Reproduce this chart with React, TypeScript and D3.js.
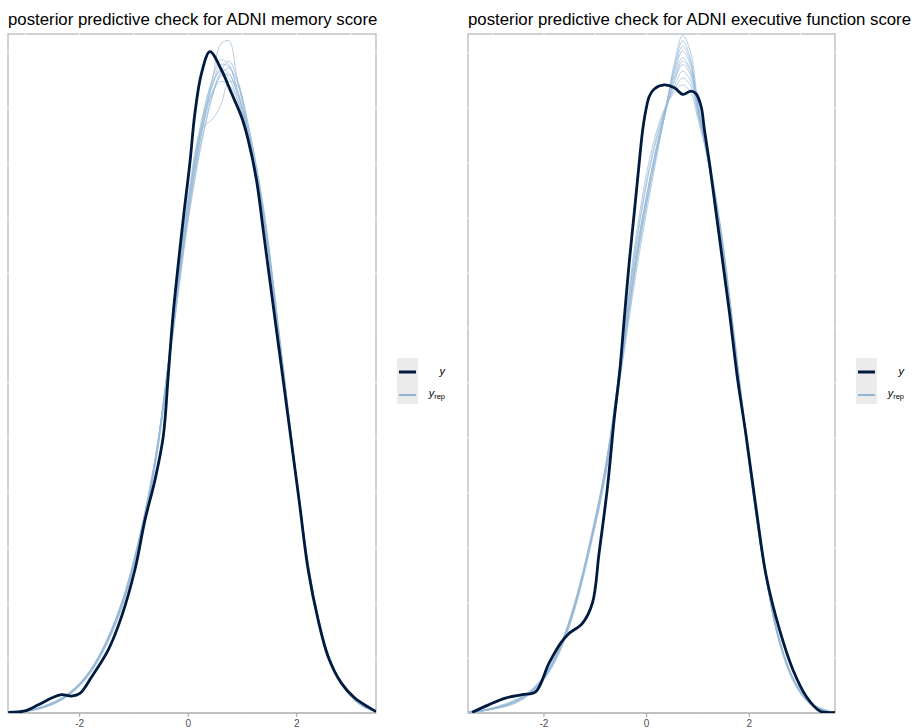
import React from "react";
import * as d3 from "d3";

// ---------- DATA (density in relative units, 1 = panel top) ----------
const titles = [
  "posterior predictive check for ADNI memory score",
  "posterior predictive check for ADNI executive function score",
];
const xTicks = [-2, 0, 2];
const xTickLabels = ["-2", "0", "2"];

// Memory score: observed y density
const memY: [number, number][] = [
  [-3.315, 0.001], [-3.007, 0.003], [-2.762, 0.012], [-2.517, 0.022], [-2.333, 0.027],
  [-2.149, 0.025], [-1.994, 0.029], [-1.781, 0.053], [-1.473, 0.093], [-1.228, 0.142],
  [-0.982, 0.211], [-0.797, 0.284], [-0.613, 0.343], [-0.46, 0.407], [-0.368, 0.497],
  [-0.276, 0.589], [-0.079, 0.736], [0.031, 0.81], [0.123, 0.883], [0.245, 0.942],
  [0.4, 0.974], [0.613, 0.947], [0.797, 0.913], [0.982, 0.878], [1.105, 0.844],
  [1.258, 0.785], [1.381, 0.712], [1.503, 0.638], [1.626, 0.564], [1.737, 0.498],
  [1.888, 0.407], [2.05, 0.309], [2.21, 0.211], [2.394, 0.137], [2.578, 0.083],
  [2.823, 0.044], [3.07, 0.022], [3.315, 0.009], [3.46, 0.002],
];

// Memory score: replicated densities on a shared grid
const memGrid = [-3.3, -3.0, -2.7, -2.4, -2.1, -1.8, -1.5, -1.2, -0.9, -0.6, -0.3, 0.0, 0.25, 0.45, 0.6, 0.75, 0.9, 1.1, 1.4, 1.7, 2.0, 2.3, 2.6, 2.9, 3.2, 3.46];
const memRep1 = [0.001, 0.003, 0.008, 0.017, 0.033, 0.060, 0.103, 0.163, 0.253, 0.372, 0.550, 0.735, 0.855, 0.935, 0.985, 0.990, 0.935, 0.860, 0.725, 0.532, 0.338, 0.175, 0.080, 0.034, 0.011, 0.002];
const memRep2 = [0.001, 0.003, 0.009, 0.019, 0.036, 0.063, 0.107, 0.168, 0.258, 0.378, 0.560, 0.750, 0.870, 0.935, 0.962, 0.955, 0.920, 0.858, 0.728, 0.538, 0.342, 0.177, 0.081, 0.034, 0.011, 0.002];
const memRep3 = [0.001, 0.002, 0.007, 0.016, 0.032, 0.059, 0.101, 0.160, 0.250, 0.368, 0.548, 0.740, 0.860, 0.925, 0.955, 0.952, 0.918, 0.852, 0.722, 0.530, 0.336, 0.172, 0.078, 0.033, 0.010, 0.002];
const memRep4 = [0.001, 0.003, 0.008, 0.018, 0.035, 0.062, 0.105, 0.166, 0.256, 0.376, 0.560, 0.760, 0.860, 0.875, 0.895, 0.930, 0.925, 0.862, 0.730, 0.540, 0.343, 0.178, 0.082, 0.035, 0.012, 0.002];
const memRep5 = [0.001, 0.003, 0.009, 0.019, 0.036, 0.064, 0.108, 0.170, 0.260, 0.380, 0.555, 0.730, 0.845, 0.910, 0.940, 0.950, 0.930, 0.868, 0.735, 0.542, 0.345, 0.180, 0.083, 0.035, 0.012, 0.002];
const memRep6 = [0.001, 0.003, 0.008, 0.017, 0.034, 0.061, 0.104, 0.164, 0.254, 0.374, 0.558, 0.755, 0.875, 0.930, 0.945, 0.935, 0.905, 0.848, 0.720, 0.530, 0.335, 0.172, 0.079, 0.033, 0.011, 0.002];
const memRep7 = [0.001, 0.002, 0.007, 0.017, 0.034, 0.062, 0.106, 0.167, 0.257, 0.377, 0.552, 0.738, 0.855, 0.915, 0.938, 0.940, 0.915, 0.858, 0.730, 0.538, 0.340, 0.176, 0.080, 0.034, 0.011, 0.002];
const memRep8 = [0.001, 0.003, 0.008, 0.018, 0.035, 0.063, 0.106, 0.167, 0.257, 0.376, 0.557, 0.750, 0.862, 0.915, 0.930, 0.925, 0.905, 0.852, 0.726, 0.536, 0.340, 0.176, 0.081, 0.035, 0.012, 0.002];
const memRep9 = [0.001, 0.003, 0.008, 0.017, 0.033, 0.060, 0.102, 0.162, 0.252, 0.370, 0.545, 0.725, 0.840, 0.910, 0.945, 0.960, 0.935, 0.870, 0.738, 0.545, 0.346, 0.179, 0.082, 0.035, 0.012, 0.002];
const memRep10 = [0.001, 0.003, 0.009, 0.019, 0.036, 0.063, 0.106, 0.167, 0.256, 0.376, 0.556, 0.748, 0.866, 0.925, 0.948, 0.942, 0.912, 0.856, 0.727, 0.537, 0.341, 0.177, 0.081, 0.034, 0.011, 0.002];

// Executive function score: observed y density
const exeY: [number, number][] = [
  [-3.4, 0.001], [-3.077, 0.012], [-2.751, 0.022], [-2.424, 0.027], [-2.164, 0.031],
  [-1.904, 0.073], [-1.675, 0.103], [-1.513, 0.117], [-1.251, 0.132], [-1.056, 0.162],
  [-0.927, 0.235], [-0.762, 0.333], [-0.633, 0.432], [-0.522, 0.505], [-0.438, 0.579],
  [-0.34, 0.663], [-0.242, 0.736], [-0.145, 0.81], [-0.078, 0.858], [-0.014, 0.888],
  [0.051, 0.908], [0.149, 0.919], [0.344, 0.925], [0.54, 0.921], [0.704, 0.911],
  [0.866, 0.916], [0.964, 0.912], [1.062, 0.893], [1.126, 0.859], [1.224, 0.81],
  [1.355, 0.736], [1.486, 0.662], [1.615, 0.589], [1.765, 0.496], [1.941, 0.407],
  [2.137, 0.299], [2.332, 0.201], [2.592, 0.122], [2.854, 0.063], [3.114, 0.024],
  [3.374, 0.003], [3.67, 0.001],
];

// Executive function score: replicated densities on a shared grid
const exeGrid = [-3.48, -3.2, -2.9, -2.6, -2.3, -2.0, -1.7, -1.4, -1.1, -0.8, -0.5, -0.2, 0.1, 0.35, 0.55, 0.7, 0.85, 1.0, 1.2, 1.45, 1.7, 2.0, 2.3, 2.6, 2.9, 3.2, 3.5, 3.67];
const exeRep1 = [0.001, 0.003, 0.007, 0.014, 0.027, 0.050, 0.090, 0.155, 0.245, 0.350, 0.500, 0.650, 0.780, 0.880, 0.960, 0.998, 0.975, 0.900, 0.815, 0.700, 0.550, 0.365, 0.210, 0.100, 0.042, 0.013, 0.003, 0.001];
const exeRep2 = [0.001, 0.004, 0.009, 0.016, 0.029, 0.053, 0.095, 0.160, 0.250, 0.360, 0.510, 0.665, 0.790, 0.880, 0.955, 0.990, 0.965, 0.895, 0.820, 0.705, 0.555, 0.370, 0.215, 0.105, 0.044, 0.014, 0.003, 0.001];
const exeRep3 = [0.001, 0.003, 0.008, 0.015, 0.028, 0.051, 0.092, 0.158, 0.248, 0.355, 0.505, 0.660, 0.790, 0.885, 0.950, 0.982, 0.960, 0.890, 0.810, 0.700, 0.550, 0.368, 0.212, 0.102, 0.043, 0.013, 0.003, 0.001];
const exeRep4 = [0.001, 0.004, 0.010, 0.018, 0.031, 0.055, 0.097, 0.163, 0.255, 0.365, 0.520, 0.680, 0.800, 0.885, 0.945, 0.975, 0.955, 0.895, 0.825, 0.710, 0.560, 0.372, 0.213, 0.100, 0.040, 0.012, 0.003, 0.001];
const exeRep5 = [0.001, 0.003, 0.008, 0.015, 0.028, 0.052, 0.093, 0.157, 0.250, 0.360, 0.515, 0.675, 0.800, 0.885, 0.940, 0.965, 0.948, 0.890, 0.815, 0.705, 0.552, 0.366, 0.210, 0.103, 0.045, 0.015, 0.004, 0.001];
const exeRep6 = [0.001, 0.003, 0.007, 0.013, 0.026, 0.049, 0.088, 0.152, 0.242, 0.350, 0.505, 0.670, 0.800, 0.880, 0.932, 0.955, 0.940, 0.885, 0.812, 0.700, 0.548, 0.362, 0.208, 0.101, 0.043, 0.014, 0.003, 0.001];
const exeRep7 = [0.001, 0.004, 0.009, 0.017, 0.030, 0.054, 0.096, 0.162, 0.252, 0.362, 0.520, 0.690, 0.815, 0.885, 0.925, 0.945, 0.932, 0.885, 0.818, 0.708, 0.556, 0.370, 0.214, 0.104, 0.043, 0.013, 0.003, 0.001];
const exeRep8 = [0.001, 0.003, 0.008, 0.015, 0.028, 0.052, 0.093, 0.158, 0.250, 0.360, 0.515, 0.695, 0.820, 0.888, 0.920, 0.935, 0.925, 0.880, 0.815, 0.703, 0.553, 0.367, 0.211, 0.102, 0.044, 0.014, 0.003, 0.001];
const exeRep9 = [0.001, 0.003, 0.008, 0.016, 0.029, 0.053, 0.094, 0.159, 0.251, 0.363, 0.525, 0.705, 0.830, 0.890, 0.915, 0.925, 0.915, 0.875, 0.812, 0.702, 0.552, 0.366, 0.212, 0.104, 0.045, 0.015, 0.004, 0.001];
const exeRep10 = [0.001, 0.004, 0.009, 0.016, 0.029, 0.052, 0.093, 0.158, 0.248, 0.357, 0.510, 0.668, 0.792, 0.878, 0.935, 0.960, 0.945, 0.890, 0.820, 0.712, 0.562, 0.375, 0.218, 0.106, 0.044, 0.014, 0.003, 0.001];

const memReps = [memRep1, memRep2, memRep3, memRep4, memRep5, memRep6, memRep7, memRep8, memRep9, memRep10];
const exeReps = [exeRep1, exeRep2, exeRep3, exeRep4, exeRep5, exeRep6, exeRep7, exeRep8, exeRep9, exeRep10];

const memXDomain: [number, number] = [-3.32, 3.46];
const exeXDomain: [number, number] = [-3.48, 3.67];

// ---------- STYLE ----------
const DARK = "#011a40";
const LIGHT = "#98bad6";
const FONT = "'Liberation Sans', Arial, Helvetica, sans-serif";

type PanelProps = {
  title: string;
  x0: number;
  x1: number;
  xDomain: [number, number];
  yCurve: [number, number][];
  grid: number[];
  reps: number[][];
  legendX: number;
  id: string;
};

const TOP = 34;
const BOTTOM = 713;

function Panel({ title, x0, x1, xDomain, yCurve, grid, reps, legendX, id }: PanelProps) {
  const x = d3.scaleLinear().domain(xDomain).range([x0, x1]);
  const y = d3.scaleLinear().domain([0, 1]).range([BOTTOM, TOP]);
  const line = d3
    .line<[number, number]>()
    .x((d) => x(d[0]))
    .y((d) => y(d[1]))
    .curve(d3.curveCatmullRom.alpha(0.5));
  const gridXs = d3.range(Math.ceil(xDomain[0]), Math.floor(xDomain[1]) + 1);
  const gridYs = d3.range(0, 1.0001, 0.081);
  return (
    <g>
      <text x={x0} y={25} fontFamily={FONT} fontSize={16.8} fill="#000">
        {title}
      </text>
      <clipPath id={id}>
        <rect x={x0} y={TOP} width={x1 - x0} height={BOTTOM - TOP} />
      </clipPath>
      <rect x={x0} y={TOP} width={x1 - x0} height={BOTTOM - TOP} fill="#fff" stroke="#b3b3b3" strokeWidth={1.2} />
      {gridXs.map((g) => (
        <line key={"gx" + g} x1={x(g)} x2={x(g)} y1={TOP - 1} y2={BOTTOM + 1} stroke="#fff" strokeWidth={0.8} />
      ))}
      {gridYs.map((g, i) => (
        <line key={"gy" + i} x1={x0 - 1} x2={x1 + 1} y1={y(g)} y2={y(g)} stroke="#fff" strokeWidth={0.8} />
      ))}
      <line x1={x0} x2={x1} y1={BOTTOM} y2={BOTTOM} stroke="#9e9e9e" strokeWidth={1.2} />
      <g clipPath={`url(#${id})`}>
        {reps.map((r, i) => (
          <path
            key={i}
            d={line(grid.map((g, j) => [g, r[j]] as [number, number])) || ""}
            fill="none"
            stroke={LIGHT}
            strokeOpacity={0.8}
            strokeWidth={0.9}
          />
        ))}
        <path d={line(yCurve) || ""} fill="none" stroke={DARK} strokeWidth={2.8} strokeLinejoin="round" />
      </g>
      {xTicks.map((t, i) => (
        <g key={"t" + t}>
          <line x1={x(t)} x2={x(t)} y1={BOTTOM} y2={BOTTOM + 4} stroke="#9e9e9e" strokeWidth={1} />
          <text x={x(t)} y={726.5} textAnchor="middle" fontFamily={FONT} fontSize={10} fill="#4d4d4d">
            {xTickLabels[i]}
          </text>
        </g>
      ))}
      {/* legend */}
      <rect x={legendX} y={358} width={21} height={46} fill="#ebebeb" />
      <line x1={legendX + 2} x2={legendX + 19} y1={372} y2={372} stroke={DARK} strokeWidth={3} />
      <line x1={legendX + 2} x2={legendX + 19} y1={395} y2={395} stroke="#8fb4d6" strokeWidth={2} />
      <text x={legendX + 48} y={375} textAnchor="end" fontFamily={FONT} fontStyle="italic" fontSize={11} fill="#000">
        y
      </text>
      <text x={legendX + 48} y={397} textAnchor="end" fontFamily={FONT} fontSize={11} fill="#000">
        <tspan fontStyle="italic">y</tspan>
        <tspan fontSize={7.5} dy={2}>rep</tspan>
      </text>
    </g>
  );
}

export default function App() {
  return (
    <svg
      width={914}
      height={728}
      viewBox="0 0 914 728"
      style={{ position: "absolute", left: 0, top: 0, background: "#fff" }}
    >
      <rect x={0} y={0} width={914} height={728} fill="#fff" />
      <Panel
        id="clipL"
        title={titles[0]}
        x0={8}
        x1={376}
        xDomain={memXDomain}
        yCurve={memY}
        grid={memGrid}
        reps={memReps}
        legendX={397}
      />
      <Panel
        id="clipR"
        title={titles[1]}
        x0={468}
        x1={835}
        xDomain={exeXDomain}
        yCurve={exeY}
        grid={exeGrid}
        reps={exeReps}
        legendX={856}
      />
    </svg>
  );
}
